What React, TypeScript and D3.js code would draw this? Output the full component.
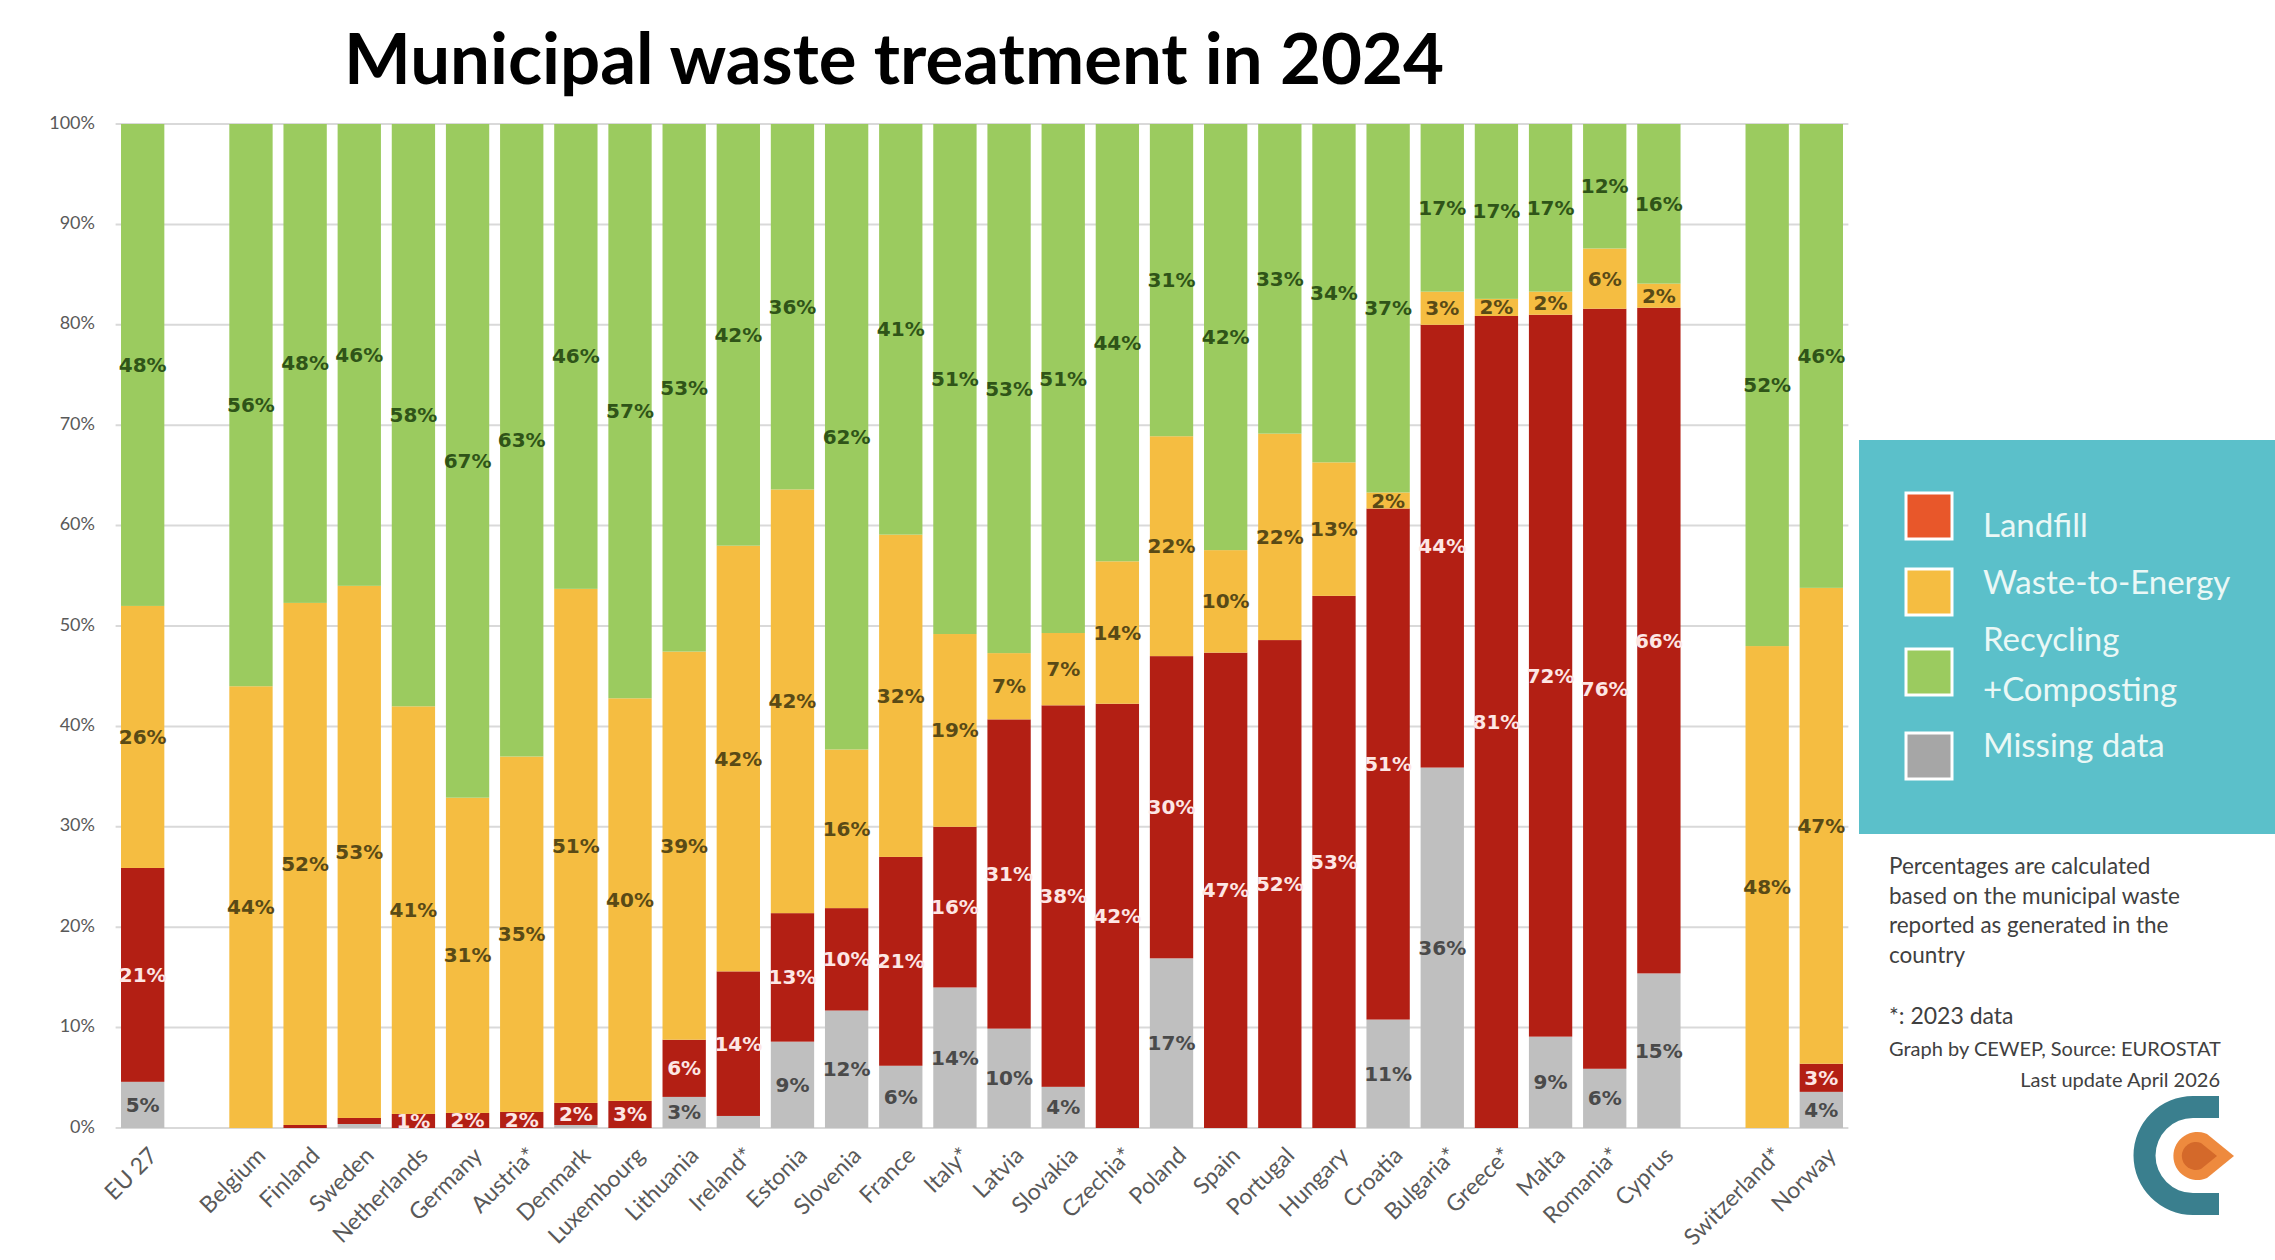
import React from 'react';
import * as d3 from 'd3';

// categories as shown on the x axis (EU average, 27 members, then non-EU)
const countries = [
  'EU 27',
  'Belgium', 'Finland', 'Sweden', 'Netherlands', 'Germany', 'Austria*', 'Denmark',
  'Luxembourg', 'Lithuania', 'Ireland*', 'Estonia', 'Slovenia', 'France', 'Italy*',
  'Latvia', 'Slovakia', 'Czechia*', 'Poland', 'Spain', 'Portugal', 'Hungary',
  'Croatia', 'Bulgaria*', 'Greece*', 'Malta', 'Romania*', 'Cyprus',
  'Switzerland*', 'Norway',
];

// shares in %
const missing = [
  4.6,
  0, 0, 0.4, 0, 0, 0, 0.3, 0, 3.1, 1.2, 8.6, 11.7, 6.2, 14,
  9.9, 4.1, 0, 16.9, 0, 0, 0, 10.8, 35.9, 0, 9.1, 5.9, 15.4,
  0, 3.6,
];
const landfill = [
  21.3,
  0, 0.3, 0.6, 1.4, 1.5, 1.6, 2.2, 2.7, 5.7, 14.4, 12.8, 10.2, 20.8, 16,
  30.8, 38, 42.3, 30.1, 47.3, 52, 53, 50.9, 44.1, 80.8, 71.9, 75.7, 66.3,
  0, 2.8,
];
const wasteToEnergy = [
  26.1,
  44, 52, 53, 40.6, 31.4, 35.4, 51.2, 40.1, 38.7, 42.4, 42.2, 15.8, 32.1, 19.2,
  6.6, 7.2, 14.2, 21.9, 10.2, 22, 13.3, 1.6, 3.3, 1.7, 2.3, 6, 2.4,
  48, 47.4,
];
const recycling = [
  48,
  56, 47.7, 46, 58, 67.1, 63, 46.3, 57.2, 52.6, 42, 36.4, 62.3, 40.9, 50.8,
  52.7, 50.7, 43.6, 31.1, 42.4, 33, 33.7, 36.7, 16.7, 17.4, 16.7, 12.4, 15.9,
  52, 46.2,
];

const yTicks = [0, 10, 20, 30, 40, 50, 60, 70, 80, 90, 100];

const legendItems = [
  { lines: ['Landfill'], fill: '#E8572A' },
  { lines: ['Waste-to-Energy'], fill: '#F5BD41' },
  { lines: ['Recycling', '+Composting'], fill: '#9BCB5F' },
  { lines: ['Missing data'], fill: '#A6A6A6' },
];

const notes = [
  'Percentages are calculated',
  'based on the municipal waste',
  'reported as generated in the',
  'country',
];

const W = 2275;
const H = 1260;
const plot = { left: 115.6, right: 1848.4, top: 124, bottom: 1128 };

const layers = [
  { key: 'missing', values: missing, fill: '#BFBFBF', text: '#4A4A4A' },
  { key: 'landfill', values: landfill, fill: '#B31F14', text: '#FDE6E4' },
  { key: 'wte', values: wasteToEnergy, fill: '#F5BD41', text: '#594A16' },
  { key: 'recycling', values: recycling, fill: '#9BCB5F', text: '#2F5418' },
];

type Row = { country: string; [k: string]: number | string };

export default function App() {
  const rows: Row[] = countries.map((c, i) => {
    const r: Row = { country: c };
    layers.forEach((l) => (r[l.key] = l.values[i]));
    return r;
  });

  // empty slots after the EU average and before the non-EU countries
  const slots = [countries[0], '_gap1', ...countries.slice(1, 28), '_gap2', ...countries.slice(28)];

  const x = d3.scaleBand<string>()
    .domain(slots)
    .range([plot.left, plot.right])
    .paddingInner(0.2)
    .paddingOuter(0.1);

  const y = d3.scaleLinear().domain([0, 1]).range([plot.bottom, plot.top]);
  const yPct = d3.scaleLinear().domain([0, 100]).range([plot.bottom, plot.top]);

  const stacked = d3.stack<Row>()
    .keys(layers.map((l) => l.key))
    .value((d, k) => d[k] as number)
    .offset(d3.stackOffsetExpand)(rows);

  const bw = x.bandwidth();

  return (
    <div style={{ position: 'absolute', left: 0, top: 0 }}>
      <svg width={W} height={H} style={{ display: 'block', background: '#fff' }}>
        <text x={894} y={84} textAnchor="middle" fontFamily="Lato, sans-serif" fontWeight={700}
          fontSize={70} fill="#000" textLength={1100} lengthAdjust="spacingAndGlyphs">
          Municipal waste treatment in 2024
        </text>

        {/* gridlines and y ticks */}
        {yTicks.map((t) => (
          <g key={t}>
            <line x1={plot.left} x2={plot.right} y1={yPct(t)} y2={yPct(t)} stroke="#D9D9D9" strokeWidth={2} />
            <text x={95} y={yPct(t)} textAnchor="end" dominantBaseline="middle"
              fontFamily="Lato, sans-serif" fontSize={18} fill="#595959">{t}%</text>
          </g>
        ))}

        {/* bars */}
        {stacked.map((series, si) => (
          <g key={series.key} fill={layers[si].fill}>
            {series.map((d) => {
              const h = y(d[0]) - y(d[1]);
              if (h <= 0) return null;
              return (
                <rect key={d.data.country as string} x={x(d.data.country as string)} y={y(d[1])}
                  width={bw} height={h} />
              );
            })}
          </g>
        ))}

        {/* value labels */}
        {stacked.map((series, si) => (
          <g key={series.key + '-lab'} fill={layers[si].text} fontFamily="'DejaVu Sans', sans-serif"
            fontWeight={700} fontSize={20} textAnchor="middle">
            {series.map((d) => {
              const raw = d.data[series.key] as number;
              if (raw < 1.3) return null;
              const c = d.data.country as string;
              return (
                <text key={c} x={(x(c) ?? 0) + bw / 2} y={(y(d[0]) + y(d[1])) / 2} dominantBaseline="central">
                  {Math.round(raw)}%
                </text>
              );
            })}
          </g>
        ))}

        {/* x axis labels */}
        {countries.map((c) => {
          const cx = (x(c) ?? 0) + bw / 2;
          return (
            <text key={c} transform={`translate(${cx + 16},${1157}) rotate(-45)`} textAnchor="end"
              fontFamily="Lato, sans-serif" fontSize={23} fill="#595959">{c}</text>
          );
        })}

        {/* legend */}
        <rect x={1859} y={440} width={416} height={394} fill="#5BC0CA" />
        {legendItems.map((it, i) => {
          const sqY = [493, 569, 649, 733][i];
          const textY = [[537], [594], [651, 701], [757]][i];
          return (
            <g key={it.lines[0]}>
              <rect x={1906} y={sqY} width={46} height={46} fill={it.fill} stroke="#fff" strokeWidth={3} />
              {it.lines.map((ln, j) => (
                <text key={ln} x={1983} y={textY[j]} fontFamily="Lato, sans-serif" fontSize={33} fill="#EAF8F6">{ln}</text>
              ))}
            </g>
          );
        })}

        {/* notes */}
        <g fontFamily="Lato, sans-serif" fill="#404040">
          {notes.map((n, i) => (
            <text key={n} x={1889} y={874 + i * 29.5} fontSize={22.5}>{n}</text>
          ))}
          <text x={1889} y={1024} fontSize={23}>*: 2023 data</text>
          <text x={1889} y={1056} fontSize={20}>Graph by CEWEP, Source: EUROSTAT</text>
          <text x={2220} y={1087} fontSize={20} textAnchor="end">Last update April 2026</text>
        </g>

        {/* CEWEP logo */}
        <path d="M2219 1096 L2193 1096 A59.5 59.5 0 0 0 2193 1215 L2219 1215 L2219 1193 L2193 1193 A37.5 37.5 0 0 1 2193 1118 L2219 1118 Z"
          fill="#3A7F8E" />
        <path d="M2234 1156 L2207 1134 A24 24 0 1 0 2207 1178 Z" fill="#EE8A3E" />
        <path d="M2217 1156 L2201 1143 A14 14 0 1 0 2201 1169 Z" fill="#D4692A" />
      </svg>
    </div>
  );
}
